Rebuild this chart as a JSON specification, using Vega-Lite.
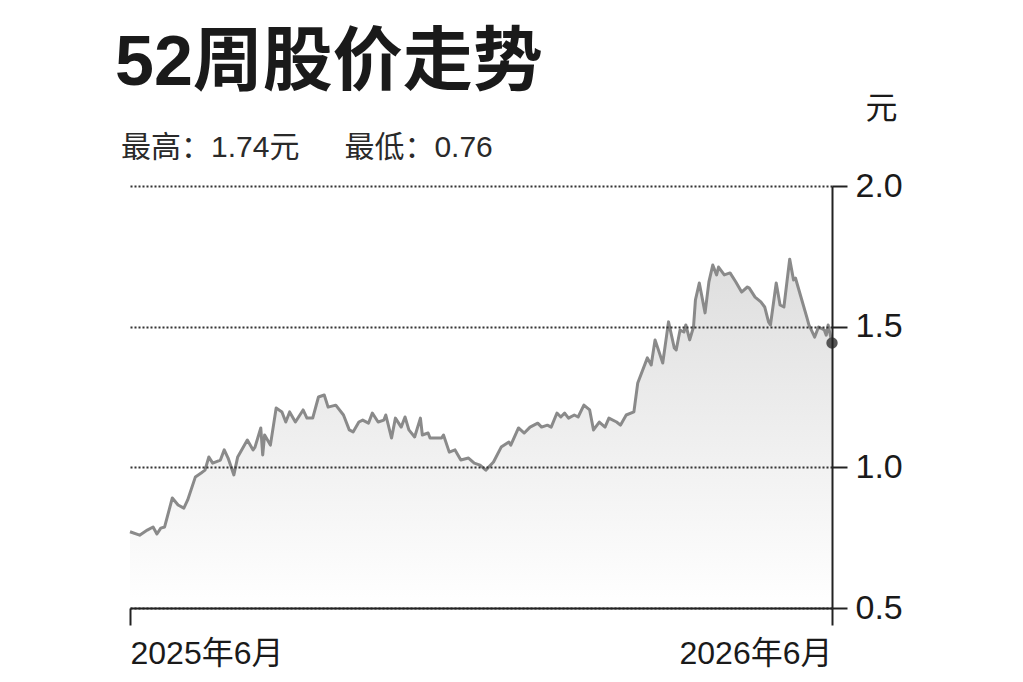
{
  "$schema": "https://vega.github.io/schema/vega-lite/v6.json",
  "autosize": "none",
  "width": 702,
  "height": 422,
  "padding": {"left": 130, "top": 186, "right": 191, "bottom": 74},
  "background": "#ffffff",
  "config": {"view": {"stroke": null}},
  "title": {
    "text": "52周股价走势",
    "subtitle": "\u200b\u2009最高：1.74元\u3000\u2002最低：0.76",
    "anchor": "start",
    "frame": "group",
    "dx": -15,
    "offset": -72,
    "font": "Liberation Sans, Noto Sans CJK SC",
    "fontSize": 70,
    "fontWeight": "bold",
    "color": "#1a1a1a",
    "subtitleFont": "Liberation Sans, Noto Sans CJK SC",
    "subtitleFontSize": 30,
    "subtitleColor": "#2a2a2a",
    "subtitlePadding": 33
  },
  "data": {
    "values": [
      {"d": 0, "v": 0.771}, {"d": 5, "v": 0.759}, {"d": 9, "v": 0.777}, {"d": 12, "v": 0.788},
      {"d": 14, "v": 0.763}, {"d": 16, "v": 0.784}, {"d": 18, "v": 0.788}, {"d": 22, "v": 0.891},
      {"d": 25, "v": 0.866}, {"d": 28, "v": 0.855}, {"d": 30, "v": 0.884}, {"d": 34, "v": 0.966},
      {"d": 37, "v": 0.98}, {"d": 39, "v": 0.99}, {"d": 41, "v": 1.037}, {"d": 43, "v": 1.015},
      {"d": 47, "v": 1.026}, {"d": 49, "v": 1.062}, {"d": 51, "v": 1.033}, {"d": 54, "v": 0.973},
      {"d": 56, "v": 1.037}, {"d": 61, "v": 1.097}, {"d": 64, "v": 1.062}, {"d": 65, "v": 1.072},
      {"d": 68, "v": 1.14}, {"d": 69, "v": 1.044}, {"d": 70, "v": 1.115}, {"d": 73, "v": 1.079},
      {"d": 76, "v": 1.211}, {"d": 79, "v": 1.197}, {"d": 81, "v": 1.161}, {"d": 83, "v": 1.197},
      {"d": 86, "v": 1.161}, {"d": 90, "v": 1.204}, {"d": 92, "v": 1.175}, {"d": 95, "v": 1.175},
      {"d": 98, "v": 1.25}, {"d": 101, "v": 1.257}, {"d": 103, "v": 1.214}, {"d": 107, "v": 1.221},
      {"d": 111, "v": 1.186}, {"d": 114, "v": 1.133}, {"d": 116, "v": 1.126}, {"d": 119, "v": 1.161},
      {"d": 121, "v": 1.168}, {"d": 124, "v": 1.157}, {"d": 126, "v": 1.193}, {"d": 129, "v": 1.161},
      {"d": 132, "v": 1.168}, {"d": 133, "v": 1.186}, {"d": 136, "v": 1.104}, {"d": 138, "v": 1.175},
      {"d": 141, "v": 1.143}, {"d": 143, "v": 1.179}, {"d": 145, "v": 1.133}, {"d": 148, "v": 1.108},
      {"d": 151, "v": 1.175}, {"d": 152, "v": 1.115}, {"d": 155, "v": 1.122}, {"d": 156, "v": 1.104},
      {"d": 162, "v": 1.104}, {"d": 163, "v": 1.115}, {"d": 166, "v": 1.054}, {"d": 169, "v": 1.062},
      {"d": 172, "v": 1.026}, {"d": 176, "v": 1.033}, {"d": 179, "v": 1.015}, {"d": 182, "v": 1.008},
      {"d": 185, "v": 0.99}, {"d": 189, "v": 1.019}, {"d": 193, "v": 1.072}, {"d": 197, "v": 1.09},
      {"d": 198, "v": 1.079}, {"d": 202, "v": 1.14}, {"d": 205, "v": 1.122}, {"d": 208, "v": 1.143},
      {"d": 212, "v": 1.157}, {"d": 214, "v": 1.143}, {"d": 217, "v": 1.15}, {"d": 219, "v": 1.143},
      {"d": 222, "v": 1.193}, {"d": 224, "v": 1.179}, {"d": 226, "v": 1.193}, {"d": 228, "v": 1.175},
      {"d": 231, "v": 1.186}, {"d": 233, "v": 1.179}, {"d": 236, "v": 1.221}, {"d": 239, "v": 1.204},
      {"d": 241, "v": 1.133}, {"d": 244, "v": 1.161}, {"d": 247, "v": 1.143}, {"d": 249, "v": 1.175},
      {"d": 253, "v": 1.161}, {"d": 255, "v": 1.15}, {"d": 258, "v": 1.186}, {"d": 262, "v": 1.197},
      {"d": 264, "v": 1.3}, {"d": 269, "v": 1.389}, {"d": 271, "v": 1.364}, {"d": 273, "v": 1.453},
      {"d": 277, "v": 1.371}, {"d": 280, "v": 1.517}, {"d": 283, "v": 1.424}, {"d": 284, "v": 1.417},
      {"d": 286, "v": 1.488}, {"d": 288, "v": 1.481}, {"d": 289, "v": 1.506}, {"d": 291, "v": 1.453},
      {"d": 293, "v": 1.499}, {"d": 294, "v": 1.595}, {"d": 296, "v": 1.655}, {"d": 299, "v": 1.549},
      {"d": 301, "v": 1.659}, {"d": 303, "v": 1.719}, {"d": 305, "v": 1.684}, {"d": 306, "v": 1.712},
      {"d": 309, "v": 1.684}, {"d": 312, "v": 1.691}, {"d": 315, "v": 1.659}, {"d": 318, "v": 1.623},
      {"d": 321, "v": 1.641}, {"d": 322, "v": 1.637}, {"d": 325, "v": 1.605}, {"d": 328, "v": 1.588},
      {"d": 330, "v": 1.57}, {"d": 332, "v": 1.517}, {"d": 333, "v": 1.506}, {"d": 336, "v": 1.655},
      {"d": 338, "v": 1.577}, {"d": 340, "v": 1.57}, {"d": 343, "v": 1.74}, {"d": 345, "v": 1.666},
      {"d": 346, "v": 1.673}, {"d": 349, "v": 1.602}, {"d": 352, "v": 1.531}, {"d": 353, "v": 1.506},
      {"d": 356, "v": 1.463}, {"d": 358, "v": 1.499}, {"d": 361, "v": 1.488}, {"d": 362, "v": 1.47},
      {"d": 363, "v": 1.506}, {"d": 365, "v": 1.442}
    ]
  },
  "encoding": {
    "x": {
      "field": "d",
      "type": "quantitative",
      "scale": {"domain": [0, 365], "nice": false, "zero": false},
      "axis": {
        "values": [0, 365],
        "labelExpr": "datum.value == 0 ? '2025年6月' : '2026年6月'",
        "title": null,
        "grid": false,
        "tickSize": 17,
        "tickWidth": 2,
        "tickColor": "#222222",
        "domainColor": "#222222",
        "domainWidth": 2,
        "labelFont": "Liberation Sans, Noto Sans CJK SC",
        "labelFontSize": 32,
        "labelColor": "#1a1a1a",
        "labelFlush": true,
        "labelPadding": 13,
        "labelBaseline": "top",
        "zindex": 1
      }
    },
    "y": {
      "field": "v",
      "type": "quantitative",
      "scale": {"domain": [0.5, 2], "nice": false, "zero": false},
      "axis": {
        "orient": "right",
        "values": [0.5, 1, 1.5, 2],
        "format": ".1f",
        "grid": true,
        "gridDash": [2, 2],
        "gridColor": "#333333",
        "gridWidth": 1.8,
        "tickSize": 15,
        "tickWidth": 2,
        "tickColor": "#222222",
        "domainColor": "#222222",
        "domainWidth": 2,
        "labelFont": "Liberation Sans",
        "labelFontSize": 34,
        "labelPadding": 8,
        "labelColor": "#1a1a1a",
        "title": "元",
        "titleAngle": 0,
        "titleX": 49,
        "titleY": -78,
        "titleAlign": "center",
        "titleBaseline": "middle",
        "titleFont": "Noto Sans CJK SC",
        "titleFontSize": 32,
        "titleFontWeight": "normal",
        "titleColor": "#1a1a1a",
        "zindex": 1
      }
    }
  },
  "layer": [
    {
      "mark": {
        "type": "area",
        "color": {
          "gradient": "linear",
          "x1": 0, "y1": 0, "x2": 0, "y2": 1,
          "stops": [
            {"offset": 0, "color": "#dedede"},
            {"offset": 1, "color": "#ffffff"}
          ]
        }
      },
      "encoding": {"y2": {"datum": 0.5}}
    },
    {
      "mark": {"type": "line", "color": "#8a8a8a", "strokeWidth": 3, "strokeJoin": "round"}
    },
    {
      "transform": [{"filter": "datum.d == 365"}],
      "mark": {"type": "point", "filled": true, "color": "#555555", "size": 130, "opacity": 1}
    }
  ]
}
